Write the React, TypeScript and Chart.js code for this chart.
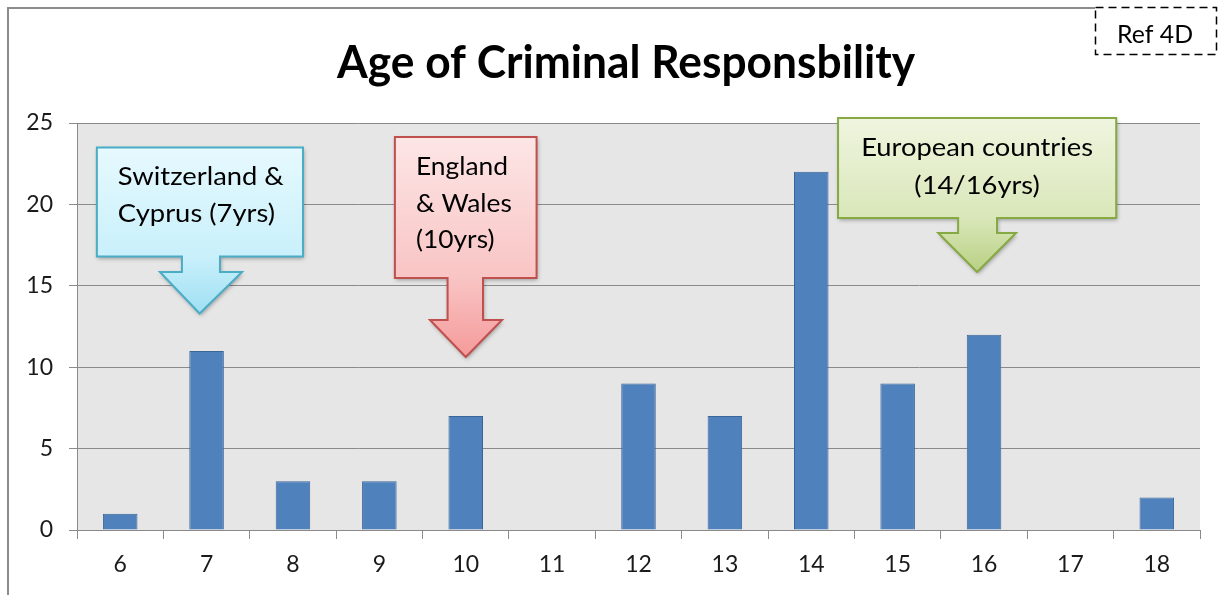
import React, { useEffect, useRef } from 'react';
import { Chart, registerables } from 'chart.js';

Chart.register(...registerables);

// ---- data ----
const ages = ['6', '7', '8', '9', '10', '11', '12', '13', '14', '15', '16', '17', '18'];
const counts = [1, 11, 3, 3, 7, 0, 9, 7, 22, 9, 12, 0, 2];
const yMin = 0;
const yMax = 25;
const yStep = 5;
const chartTitle = 'Age of Criminal Responsbility';
const refLabel = 'Ref 4D';

// callout annotations, anchored in data space (category index, value)
const calloutTexts = [
  ['Switzerland &', 'Cyprus (7yrs)'],
  ['England', '& Wales', '(10yrs)'],
  ['European countries', '(14/16yrs)'],
];
const calloutTargets = [166, 96, 232]; // widest-line text widths (px)

const FONT = 'Lato, "Open Sans", "Noto Sans", sans-serif';

type Callout = {
  box: [number, number, number, number]; // xl, xr (index), yTop, yBottom (value)
  stem: [number, number];
  head: [number, number, number]; // xl, xr, yTop
  tip: [number, number];
  align: 'left' | 'center';
  lineGap: number;
  top: [string, string];
  bottom: string;
  stroke: string;
};

const calloutGeo: Callout[] = [
  { box: [-0.27, 2.116, 23.5, 16.8], stem: [0.715, 1.155], head: [0.46, 1.41, 15.85], tip: [0.92, 13.3], align: 'left', lineGap: 37, top: ['#e6f9fe', '#c9f0fb'], bottom: '#9fdff3', stroke: '#4bacc6' },
  { box: [3.18, 4.82, 24.14, 15.48], stem: [3.79, 4.2], head: [3.586, 4.42, 12.9], tip: [4.0, 10.63], align: 'left', lineGap: 36.5, top: ['#fde6e6', '#f9c4c4'], bottom: '#f59a9a', stroke: '#c0504d' },
  { box: [8.31, 11.53, 25.3, 19.16], stem: [9.7, 10.15], head: [9.47, 10.37, 18.24], tip: [9.92, 15.85], align: 'center', lineGap: 38, top: ['#eff5df', '#d9e7b9'], bottom: '#b9d083', stroke: '#86a944' },
];

function drawFitted(ctx: CanvasRenderingContext2D, text: string, x: number, y: number, align: string, font: string, sx: number) {
  ctx.font = font;
  const w = ctx.measureText(text).width * sx;
  const left = align === 'left' ? x : align === 'center' ? x - w / 2 : x - w;
  ctx.save();
  ctx.translate(left, y);
  ctx.scale(sx, 1);
  ctx.textAlign = 'left';
  ctx.textBaseline = 'alphabetic';
  ctx.fillText(text, 0, 0);
  ctx.restore();
}

function fitScale(ctx: CanvasRenderingContext2D, text: string, font: string, target: number) {
  ctx.font = font;
  const w = ctx.measureText(text).width;
  return Math.max(0.7, Math.min(1.3, target / w));
}

const decorPlugin = {
  id: 'decor',
  beforeDraw(chart: any) {
    const { ctx, chartArea } = chart;
    ctx.save();
    ctx.fillStyle = '#e6e6e6';
    ctx.fillRect(chartArea.left, chartArea.top, chartArea.right - chartArea.left, chartArea.bottom - chartArea.top);
    ctx.restore();
  },
  afterDraw(chart: any) {
    const { ctx } = chart;
    const xs = chart.scales.x;
    const ys = chart.scales.y;
    const px = (v: number) => xs.getPixelForValue(v);
    const py = (v: number) => ys.getPixelForValue(v);

    ctx.save();
    // outer frame
    ctx.strokeStyle = '#8c8c8c';
    ctx.lineWidth = 2;
    ctx.beginPath();
    ctx.moveTo(8, 600);
    ctx.lineTo(8, 8);
    ctx.lineTo(1095, 8);
    ctx.stroke();

    // ref box
    ctx.fillStyle = '#ffffff';
    ctx.fillRect(1095, 7, 121, 47);
    ctx.strokeStyle = '#000000';
    ctx.lineWidth = 1.5;
    ctx.setLineDash([8, 5]);
    ctx.strokeRect(1095.5, 7.5, 121, 47);
    ctx.setLineDash([]);
    ctx.fillStyle = '#000000';
    const refFont = `25px ${FONT}`;
    drawFitted(ctx, refLabel, 1155, 43, 'center', refFont, fitScale(ctx, refLabel, refFont, 76));

    // title
    const tFont = `bold 46px ${FONT}`;
    ctx.fillStyle = '#000000';
    drawFitted(ctx, chartTitle, 626, 78, 'center', tFont, fitScale(ctx, chartTitle, tFont, 578));

    // callouts
    calloutGeo.forEach((c, i) => {
      const bl = px(c.box[0]), br = px(c.box[1]), bt = py(c.box[2]), bb = py(c.box[3]);
      const sl = px(c.stem[0]), sr = px(c.stem[1]);
      const hl = px(c.head[0]), hr = px(c.head[1]), ht = py(c.head[2]);
      const tx = px(c.tip[0]), ty = py(c.tip[1]);
      const path = () => {
        ctx.beginPath();
        ctx.moveTo(bl, bt);
        ctx.lineTo(br, bt);
        ctx.lineTo(br, bb);
        ctx.lineTo(sr, bb);
        ctx.lineTo(sr, ht);
        ctx.lineTo(hr, ht);
        ctx.lineTo(tx, ty);
        ctx.lineTo(hl, ht);
        ctx.lineTo(sl, ht);
        ctx.lineTo(sl, bb);
        ctx.lineTo(bl, bb);
        ctx.closePath();
      };
      const g = ctx.createLinearGradient(0, bt, 0, ty);
      g.addColorStop(0, c.top[0]);
      g.addColorStop((bb - bt) / (ty - bt), c.top[1]);
      g.addColorStop(1, c.bottom);
      ctx.save();
      ctx.shadowColor = 'rgba(0,0,0,0.35)';
      ctx.shadowBlur = 4;
      ctx.shadowOffsetX = 1;
      ctx.shadowOffsetY = 2;
      path();
      ctx.fillStyle = g;
      ctx.fill();
      ctx.restore();
      path();
      ctx.strokeStyle = c.stroke;
      ctx.lineWidth = 2;
      ctx.lineJoin = 'miter';
      ctx.stroke();

      // text
      const lines = calloutTexts[i];
      const f = `25px ${FONT}`;
      let widest = lines[0];
      ctx.font = f;
      lines.forEach((l) => { if (ctx.measureText(l).width > ctx.measureText(widest).width) widest = l; });
      const sx = fitScale(ctx, widest, f, calloutTargets[i]);
      ctx.fillStyle = '#000000';
      lines.forEach((l, k) => {
        const x = c.align === 'left' ? bl + 21 : (bl + br) / 2;
        const y = bt + 38 + k * c.lineGap;
        drawFitted(ctx, l, x, y, c.align, f, sx);
      });
    });
    ctx.restore();
  },
};

export default function App() {
  const ref = useRef<HTMLCanvasElement>(null);
  useEffect(() => {
    if (!ref.current) return;
    const chart = new Chart(ref.current, {
      type: 'bar',
      data: {
        labels: ages,
        datasets: [
          {
            data: counts,
            backgroundColor: '#4f81bd',
            borderColor: '#3a6698',
            borderWidth: 1,
            barPercentage: 0.4,
            categoryPercentage: 1,
          },
        ],
      },
      options: {
        animation: false,
        responsive: false,
        devicePixelRatio: 1,
        layout: { padding: { top: 123, left: 0, right: 25, bottom: 0 } },
        plugins: { legend: { display: false }, title: { display: false }, tooltip: { enabled: false } },
        scales: {
          x: {
            offset: true,
            grid: { offset: true, drawOnChartArea: false, drawTicks: true, tickLength: 9, color: '#8a8a8a' },
            border: { display: true, color: '#8a8a8a' },
            ticks: { color: '#1a1a1a', font: { family: FONT, size: 23 }, padding: 12, maxRotation: 0 },
            afterFit: (s: any) => { s.height = 65; },
          },
          y: {
            min: yMin,
            max: yMax,
            grid: { color: '#8a8a8a', tickLength: 8, drawTicks: true },
            border: { display: true, color: '#8a8a8a' },
            ticks: { stepSize: yStep, color: '#1a1a1a', font: { family: FONT, size: 23 }, padding: 16 },
            afterFit: (s: any) => { s.width = 77; },
          },
        },
      },
      plugins: [decorPlugin],
    });
    return () => chart.destroy();
  }, []);
  return (
    <div style={{ position: 'fixed', left: 0, top: 0, width: 1225, height: 595, background: '#ffffff' }}>
      <canvas ref={ref} width={1225} height={595} style={{ width: 1225, height: 595, display: 'block' }} />
    </div>
  );
}
